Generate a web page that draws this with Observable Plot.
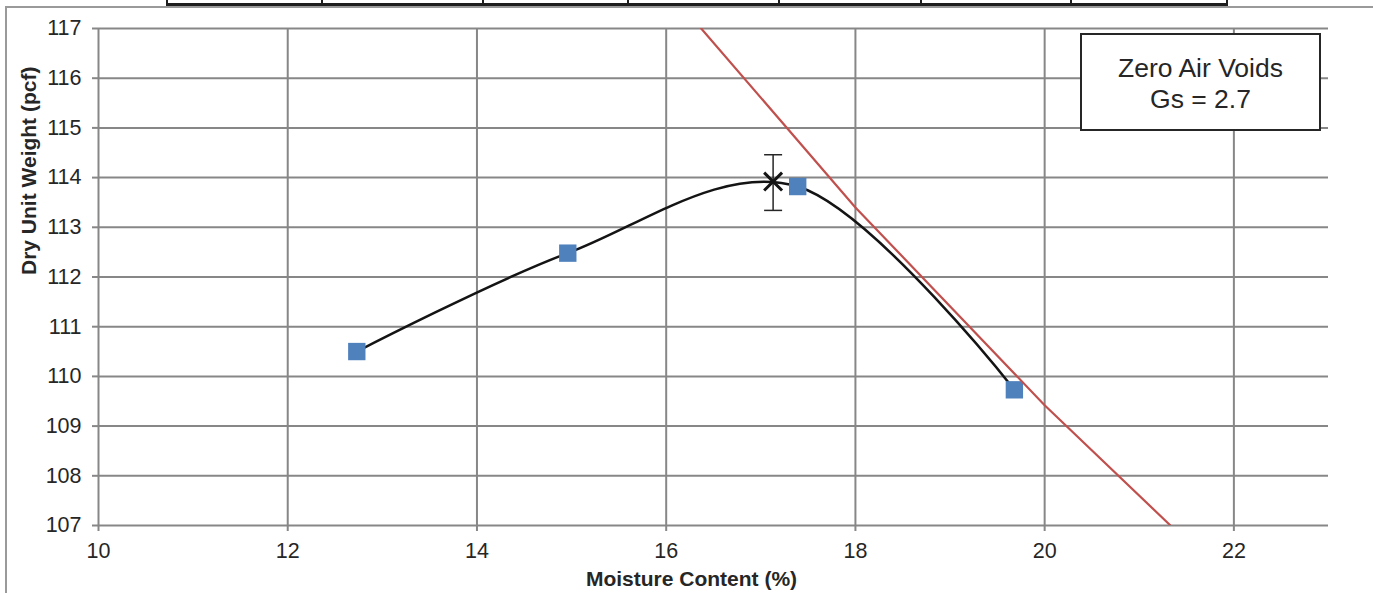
<!DOCTYPE html>
<html>
<head>
<meta charset="utf-8">
<script src="https://cdn.jsdelivr.net/npm/d3@7"></script>
<script src="https://cdn.jsdelivr.net/npm/@observablehq/plot@0.6"></script>
<style>
  html, body { margin: 0; padding: 0; background: #fff; }
  #wrap { position: relative; width: 1373px; height: 593px; overflow: hidden; background: #fff; }
  #wrap svg { position: absolute; left: 0; top: 0; }
  .deco { position: absolute; }
  #legend {
    position: absolute; left: 1080px; top: 33px; width: 237px;
    border: 2px solid #262626; background: #fff;
    font-family: "Liberation Sans", Arial, sans-serif; font-size: 26.5px; color: #262626;
    text-align: center; line-height: 31px; box-sizing: content-box;
    display: flex; flex-direction: column; justify-content: center; padding-top: 3px; height: 91px;
  }
</style>
</head>
<body>
<div id="wrap"></div>
<script>
// ---- data ----
const moisture = [12.73, 14.96, 17.39, 19.68];            // %
const dryUnitWeight = [110.5, 112.48, 113.82, 109.73];    // pcf
const optimumMoisture = [17.13];
const maxDryUnitWeight = [113.92];
const maxLow = [113.34];
const maxHigh = [114.46];
const zavMoisture = [16.37, 18, 20, 21.33];
const zavWeight = [117, 113.4, 109.42, 107];
const xTicks = [10, 12, 14, 16, 18, 20, 22];
const yTicks = [107, 108, 109, 110, 111, 112, 113, 114, 115, 116, 117];
const xTitle = "Moisture Content (%)";
const yTitle = "Dry Unit Weight (pcf)";
const legendLines = ["Zero Air Voids", "Gs = 2.7"];

// ---- tables built from arrays ----
const points = moisture.map((m, i) => ({m, w: dryUnitWeight[i]}));
const optimum = optimumMoisture.map((m, i) => ({m, w: maxDryUnitWeight[i], lo: maxLow[i], hi: maxHigh[i]}));
const zav = zavMoisture.map((m, i) => ({m, w: zavWeight[i]}));

const grid = "#878787";
const ink = "#262626";
const capSymbol = { draw(ctx) { ctx.moveTo(-9, 0); ctx.lineTo(9, 0); } };

const chart = Plot.plot({
  width: 1373,
  height: 593,
  marginLeft: 98,
  marginRight: 45,
  marginTop: 28,
  marginBottom: 68,
  x: {domain: [10, 23]},
  y: {domain: [107, 117]},
  style: {fontFamily: "'Liberation Sans', Arial, sans-serif", fontSize: "21px", color: ink, background: "transparent", overflow: "visible"},
  marks: [
    Plot.gridX(xTicks, {stroke: grid, strokeOpacity: 1, strokeWidth: 2}),
    Plot.gridY(yTicks, {stroke: grid, strokeOpacity: 1, strokeWidth: 2}),
    Plot.axisX(xTicks, {tickSize: 6, tickPadding: 11, stroke: grid, strokeWidth: 2, fill: ink, fontSize: 21.5, tickFormat: d => String(d), label: null}),
    Plot.axisY(yTicks, {tickSize: 6, tickPadding: 11, stroke: grid, strokeWidth: 2, fill: ink, fontSize: 21.5, tickFormat: d => String(d), label: null}),
    Plot.line(points, {x: "m", y: "w", curve: "cardinal", tension: 0, stroke: "#141414", strokeWidth: 2.5}),
    Plot.ruleX(optimum, {x: "m", y1: "lo", y2: "hi", stroke: ink, strokeWidth: 1.5}),
    Plot.dot(optimum, {x: "m", y: "lo", symbol: capSymbol, r: 5, stroke: ink, strokeWidth: 1.5}),
    Plot.dot(optimum, {x: "m", y: "hi", symbol: capSymbol, r: 5, stroke: ink, strokeWidth: 1.5}),
    Plot.dot(optimum, {x: "m", y: "w", symbol: "times", r: 8.2, stroke: "#141414", strokeWidth: 3}),
    Plot.dot(points, {x: "m", y: "w", symbol: "square", r: 9.8, fill: "#4f81bd", stroke: "none"}),
    Plot.line(zav, {x: "m", y: "w", stroke: "#c0504d", strokeWidth: 2.2, clip: true}),
    Plot.text([xTitle], {frameAnchor: "bottom", dx: -22, dy: 60, fontWeight: "bold", fontSize: 21, fill: ink}),
    Plot.text([yTitle], {frameAnchor: "left", rotate: -90, dx: -69, dy: -2, fontWeight: "bold", fontSize: 21, fill: ink})
  ]
});

const wrap = document.getElementById("wrap");
wrap.appendChild(chart);

// decorative outer frame and table fragment from the original document
function addLine(l, t, w, h, c) {
  const d = document.createElement("div");
  d.className = "deco";
  Object.assign(d.style, {left: l + "px", top: t + "px", width: w + "px", height: h + "px", background: c});
  wrap.appendChild(d);
}
addLine(5, 6, 1368, 2, "#9a9a9a");
addLine(5, 6, 2, 587, "#9a9a9a");
addLine(166, 3, 1062, 2.5, "#1e1e1e");
[166, 321, 482, 627, 778, 920, 1070, 1226].forEach(x => addLine(x, 0, 2, 5, "#1e1e1e"));

// legend box
const lg = document.createElement("div");
lg.id = "legend";
legendLines.forEach(s => { const p = document.createElement("div"); p.textContent = s; lg.appendChild(p); });
wrap.appendChild(lg);
</script>
</body>
</html>
